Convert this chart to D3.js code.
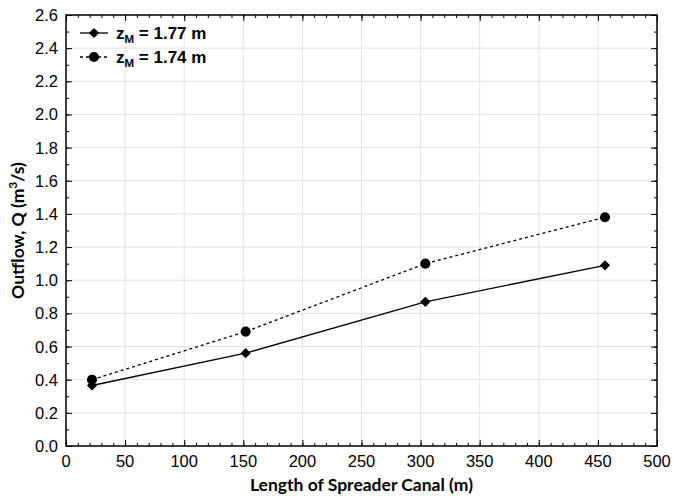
<!DOCTYPE html>
<html>
<head>
<meta charset="utf-8">
<script src="https://cdn.jsdelivr.net/npm/d3@7"></script>
<style>
  body { margin: 0; background: #fff; }
</style>
</head>
<body>
<div id="chart"></div>
<script>
// data
var lengths = [22, 152, 304, 456];
var flow177 = [0.365, 0.56, 0.87, 1.09];
var flow174 = [0.40, 0.69, 1.10, 1.38];
var xTicks = d3.range(0, 501, 50);
var yTicks = d3.range(0, 2.61, 0.2);

var w = 674, h = 498;
var m = { left: 66, right: 17, top: 15, bottom: 52 };
var sans = "'Liberation Sans', Arial, sans-serif";
var titleFont = "Lato, 'Open Sans', sans-serif";

var svg = d3.select("#chart").append("svg")
  .attr("width", w).attr("height", h);

var x = d3.scaleLinear().domain([0, 500]).range([m.left, w - m.right]);
var y = d3.scaleLinear().domain([0, 2.6]).range([h - m.bottom, m.top]);

// grid
svg.append("g").selectAll("line")
  .data(xTicks.slice(1, -1)).enter().append("line")
  .attr("x1", d => x(d)).attr("x2", d => x(d))
  .attr("y1", y(0)).attr("y2", y(2.6))
  .attr("stroke", "#e3e3e3").attr("stroke-width", 1);
svg.append("g").selectAll("line")
  .data(yTicks.slice(1, -1)).enter().append("line")
  .attr("y1", d => y(d)).attr("y2", d => y(d))
  .attr("x1", x(0)).attr("x2", x(500))
  .attr("stroke", "#e3e3e3").attr("stroke-width", 1);

// axes, ticks pointing inward on all four sides
var xMinor = d3.range(0, 501, 10);
var yMinor = d3.range(0, 2.61, 0.1);
var bx = svg.append("g").attr("transform", "translate(0," + y(0) + ")");
bx.call(d3.axisTop(x).tickValues(xMinor).tickSize(3).tickFormat(""));
bx.append("g").call(d3.axisTop(x).tickValues(xTicks).tickSize(6).tickFormat(""));
var tx = svg.append("g").attr("transform", "translate(0," + y(2.6) + ")");
tx.call(d3.axisBottom(x).tickValues(xMinor).tickSize(3).tickFormat(""));
tx.append("g").call(d3.axisBottom(x).tickValues(xTicks).tickSize(6).tickFormat(""));
var ly = svg.append("g").attr("transform", "translate(" + x(0) + ",0)");
ly.call(d3.axisRight(y).tickValues(yMinor).tickSize(3).tickFormat(""));
ly.append("g").call(d3.axisRight(y).tickValues(yTicks).tickSize(6).tickFormat(""));
var ry = svg.append("g").attr("transform", "translate(" + x(500) + ",0)");
ry.call(d3.axisLeft(y).tickValues(yMinor).tickSize(3).tickFormat(""));
ry.append("g").call(d3.axisLeft(y).tickValues(yTicks).tickSize(6).tickFormat(""));
svg.selectAll(".domain").remove();
svg.selectAll(".tick line").attr("stroke", "#000").attr("stroke-width", 1);

svg.append("rect")
  .attr("x", x(0)).attr("y", y(2.6))
  .attr("width", x(500) - x(0)).attr("height", y(0) - y(2.6))
  .attr("fill", "none").attr("stroke", "#000").attr("stroke-width", 1.5);

// tick labels
svg.append("g").selectAll("text")
  .data(xTicks).enter().append("text")
  .attr("x", d => x(d)).attr("y", y(0) + 21)
  .attr("text-anchor", "middle")
  .attr("font-family", sans).attr("font-size", 16.5)
  .text(d => d);
svg.append("g").selectAll("text")
  .data(yTicks).enter().append("text")
  .attr("x", x(0) - 8).attr("y", d => y(d) + 6)
  .attr("text-anchor", "end")
  .attr("font-family", sans).attr("font-size", 16.5)
  .text(d => d.toFixed(1));

// axis titles
svg.append("text")
  .attr("x", (x(0) + x(500)) / 2).attr("y", h - 7)
  .attr("text-anchor", "middle")
  .attr("font-family", titleFont)
  .attr("font-weight", "bold").attr("font-size", 17.5)
  .text("Length of Spreader Canal (m)");
var yt = svg.append("text")
  .attr("transform", "translate(24," + y(1.3) + ") rotate(-90)")
  .attr("text-anchor", "middle")
  .attr("font-family", titleFont)
  .attr("font-weight", "bold").attr("font-size", 17.5);
yt.append("tspan").text("Outflow, Q (m");
yt.append("tspan").attr("font-size", 12).attr("dy", -7).text("3");
yt.append("tspan").attr("dy", 7).text("/s)");

// series
var diamond = d3.symbol().type(d3.symbolSquare).size(52)();
var circle = d3.symbol().type(d3.symbolCircle).size(80)();
var series = [
  { vals: flow177, dash: null, shape: diamond, rot: 45, label: "1.77 m" },
  { vals: flow174, dash: "3,3", shape: circle, rot: 0, label: "1.74 m" }
];
var line = d3.line().x(d => x(d[0])).y(d => y(d[1]));

series.forEach(function (s) {
  var pts = lengths.map((l, i) => [l, s.vals[i]]);
  svg.append("path").datum(pts)
    .attr("d", line).attr("fill", "none")
    .attr("stroke", "#000").attr("stroke-width", 1.3)
    .attr("stroke-dasharray", s.dash);
  svg.append("g").selectAll("path")
    .data(pts).enter().append("path")
    .attr("d", s.shape)
    .attr("transform", d => "translate(" + x(d[0]) + "," + y(d[1]) + ") rotate(" + s.rot + ")")
    .attr("fill", "#000");
});

// legend
var leg = svg.append("g").attr("transform", "translate(80,33)");
series.forEach(function (s, i) {
  var g = leg.append("g").attr("transform", "translate(0," + (i * 24) + ")");
  g.append("line").attr("x1", 0).attr("x2", 28)
    .attr("stroke", "#000").attr("stroke-width", 1.3)
    .attr("stroke-dasharray", s.dash);
  g.append("path").attr("d", s.shape)
    .attr("transform", "translate(14,0) rotate(" + s.rot + ")").attr("fill", "#000");
  var t = g.append("text").attr("x", 36).attr("y", 6)
    .attr("font-family", sans)
    .attr("font-weight", "bold").attr("font-size", 17);
  t.append("tspan").text("z");
  t.append("tspan").attr("font-size", 11.5).attr("dy", 4).text("M");
  t.append("tspan").attr("dy", -4).text(" = " + s.label);
});
</script>
</body>
</html>
